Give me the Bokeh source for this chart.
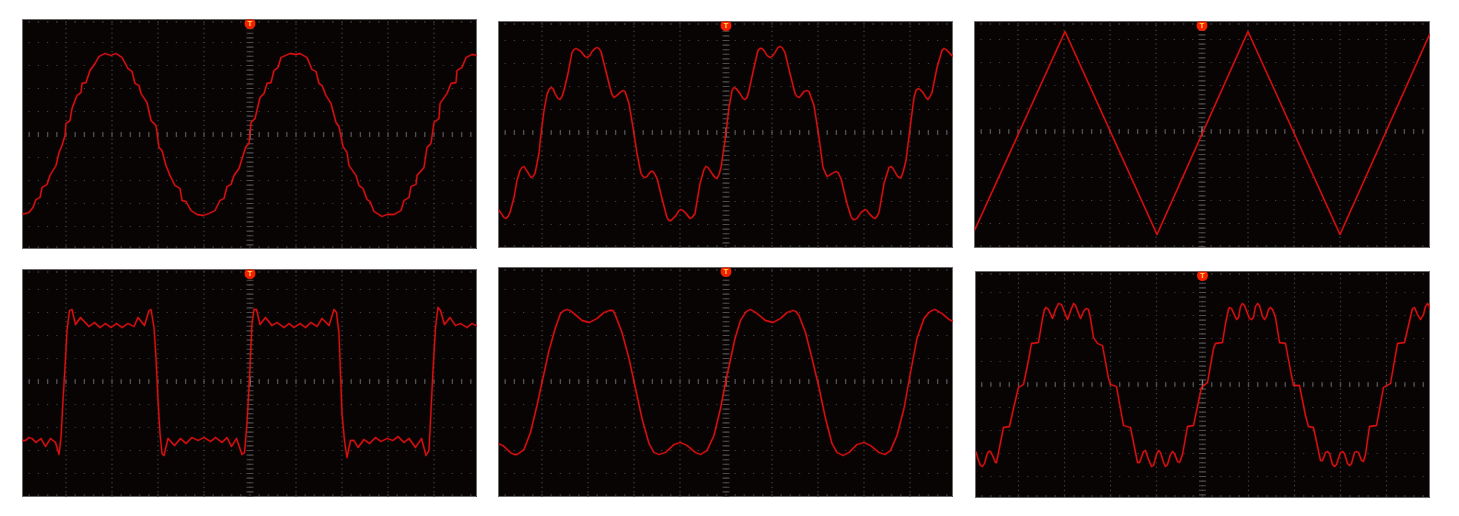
import numpy as np
from bokeh.plotting import figure
from bokeh.layouts import row, column
from bokeh.embed import file_html
from bokeh.resources import INLINE
from bokeh.core.properties import value

# Sample offset from the trigger and level offset from the centre line, read from the screens.
time_a = [-228,-221,-217,-214,-210,-208,-203,-200,-194,-191,-188,-185,-184,-180,-178,-173,-169,-168,-164,-160,-155,-151,-145,-139,-134,-128,-122,-118,-115,-111,-109,-103,-99,-94,-91,-88,-84,-80,-75,-70,-68,-64,-59,-53,-47,-41,-35,-30,-26,-23,-19,-16,-11,-7,-4,-1,1,5,10,14,17,21,24,28,31,40,46,50,57,62,66,69,72,76,81,86,89,93,97,99,106,109,113,117,120,124,132,137,144,151,154,159,161,166,167,174,177,181,184,189,190,197,201,206,207,212,216,222,228]
level_a = [-80,-78,-73,-65,-63,-53,-50,-41,-31,-18,-11,-1,11,14,26,39,42,51,52,64,71,78,81,79,81,77,66,63,51,49,41,32,14,9,-13,-16,-31,-41,-51,-54,-66,-67,-76,-80,-81,-79,-76,-66,-64,-52,-50,-41,-34,-21,-12,-9,12,16,37,41,51,52,64,67,77,81,80,81,77,65,63,51,49,39,31,12,8,-12,-18,-31,-41,-51,-54,-65,-67,-77,-82,-80,-80,-76,-66,-63,-52,-50,-41,-33,-13,-9,12,16,31,41,51,52,64,67,77,80,79]

time_b = [-227.5,-224,-222,-220,-218,-216,-212,-209,-206,-204,-202,-200,-195,-193,-191,-187,-185,-182,-179,-177,-175,-173,-171,-168,-166,-164,-162,-158,-154,-152,-150,-148,-145,-141,-139,-136,-134,-131,-129,-127,-125,-121,-116,-114,-112,-109,-106,-103,-101,-97,-93,-89,-85,-83,-81,-79,-77,-75,-73,-71,-69,-64,-59,-57,-55,-52,-50,-47,-45,-43,-40,-36,-34,-31,-26,-22,-20,-18,-14,-11,-9,-7,-5,-1,3,6,8,10,14,17,19,21,23,28,32,34,36,38,41,44,47,49,52,54,56,59,64,69,71,73,75,78,81,83,88,93,97,101,103,106,110,112,115,121,125,127,129,131,135,139,141,143,147,149,151,153,158,163,165,167,171,173,175,177,180,185,188,190,192,194,197,200,202,204,206,211,216,218,220,224,228]
level_b = [-77,-82,-85,-86,-84,-80,-65,-48,-38,-35,-34,-37,-45,-44,-41,-21,-1,22,38,43,45,44,39,34,33,36,42,59,80,83,84,83,81,76,75,77,81,84,85,84,81,65,45,38,35,37,40,42,41,29,5,-21,-41,-44,-45,-44,-41,-39,-39,-42,-46,-66,-85,-88,-88,-85,-83,-78,-77,-78,-81,-86,-85,-81,-51,-37,-34,-35,-41,-45,-46,-42,-35,-8,25,42,45,44,39,34,33,35,42,65,82,84,84,82,77,75,77,80,85,86,85,80,59,39,36,35,37,41,42,41,27,-5,-35,-44,-43,-41,-39,-40,-46,-71,-84,-87,-87,-86,-80,-77,-78,-81,-85,-86,-84,-80,-51,-35,-34,-36,-43,-45,-45,-40,-28,12,35,42,44,43,40,35,33,36,40,65,82,84,83,79,75]

time_c = [-227.5,-137,-45,46,138,228]
level_c = [-99,100,-103,100,-103,98]

time_d = [-228,-224.5,-221,-218,-214,-209,-204.5,-199.5,-194.5,-191,-189,-187,-185,-183,-180.5,-178,-174.5,-169.5,-161,-155.5,-150,-144.5,-139,-133.5,-128,-122,-116,-112,-105.5,-101,-99,-96,-94,-92,-90,-88,-86,-82,-75.5,-69.5,-64,-58,-52,-46,-39.5,-34.5,-28,-23,-18.5,-13.5,-8,-5.5,-3,-0.5,2,4,6.5,10,15.5,22,27,34,39,44,50,55.5,61,67,72,79,84,86.5,89,90.5,92,94.5,97,100.5,104,108,114,119.5,125.5,131,137,143,148,154,159,165.5,171.5,176,179,181,183,185.5,188,190.5,194.5,200,205.5,210.5,217,222,228]
level_d = [-59,-59,-56,-57,-61,-57,-65,-57,-61,-73,-56,-19,14,51,71,72,57,64,55,59,54,58,54,58,54,58,55,64,56,71,72,54,24,-19,-52,-72,-74,-57,-64,-57,-62,-56,-59,-56,-60,-56,-61,-56,-65,-57,-73,-71,-42,4,58,72,72,57,64,56,59,54,58,54,58,54,59,55,63,56,72,69,48,8,-32,-59,-76,-59,-59,-66,-58,-62,-56,-60,-57,-59,-55,-61,-57,-66,-57,-74,-69,-29,11,54,74,71,57,64,56,58,54,58,55]

time_e = [-228,-223,-215.5,-212,-209,-206,-202,-195.5,-189,-184,-177,-170.5,-165.5,-162,-159,-156,-152,-144,-136.5,-129,-122,-116.5,-113,-110.5,-104,-97,-90.5,-84,-77,-72,-67,-60.5,-52,-45.5,-39,-30.5,-25.5,-19,-12,-5.5,1,9,14.5,19.5,22,24.5,28,31,39.5,47,54.5,61,67,70,73,79.5,86,93,99.5,106,111,117,123,131,138,144.5,153,159,164.5,171,178,184.5,191,198,203,206,209,216,223,229]
level_e = [-62,-64,-71,-73,-73,-71,-68,-51,-24,-1,31,54,68,71,72,71,68,61,59,63,69,71,71,66,49,23,-7,-37,-62,-71,-73,-71,-63,-61,-64,-71,-73,-69,-54,-27,6,43,61,69,71,72,70,68,61,59,63,69,71,70,66,49,23,-6,-37,-62,-71,-74,-71,-63,-61,-64,-71,-73,-69,-54,-27,9,43,63,69,71,72,68,62,59]

time_f = [-226.7,-224,-222,-220,-218,-215.5,-214,-212,-210,-207,-206,-204,-199,-193,-189,-184,-179,-175,-171,-164,-160,-158,-156.5,-154,-150,-146.5,-144,-141,-139,-135,-131,-129,-127,-122,-118.5,-116,-114,-112,-109,-105,-100,-94,-92,-86,-79,-72,-65,-63,-59,-57,-54,-51,-49,-46,-44,-42,-39,-37,-35,-32,-30,-28,-25,-23,-20,-15,-9,-1,5,11,13,20,23,26,27,29,34,36,38,40,42,47,49,51,53,55,57,60,62,64,66,68,70,73,77,83,88,91,97,103,106,111,118,120,123,125,127,130,132,134,138,140,142,145,147,149,152,154,156,159,161,163,167,174,181,188,195,202,210,212,215,218,221,223,225,227,228]
level_f = [-67,-76,-81,-82,-79,-70,-67,-67,-71,-78,-78,-68,-43,-42,-24,-3,0,19,41,42,66,75,77,75,66,76,81,80,75,65,76,81,79,66,74,76,75,66,47,41,39,6,0,-2,-41,-43,-78,-78,-67,-66,-75,-82,-81,-70,-66,-68,-78,-82,-80,-70,-67,-69,-77,-78,-70,-42,-41,-3,2,36,41,42,61,75,77,76,65,67,78,81,79,66,65,67,78,81,79,68,65,68,75,77,75,67,42,41,14,-1,-1,-31,-42,-43,-76,-76,-68,-67,-69,-80,-82,-80,-68,-67,-69,-79,-81,-79,-68,-67,-68,-76,-77,-70,-42,-41,-3,1,41,42,76,77,70,65,70,78,81,78,74]

# Screen scale: sample offsets across, level offsets up, and page margins of each screen.
DIV_X, DIV_Y, SUB = 46.0, 23.0, 5
panels = {
    "a": (time_a, level_a, (-227.5, 227.5), (-115, 115), 455, 230, (19, 0, 0, 22)),
    "d": (time_d, level_d, (-227.5, 227.5), (-116, 112), 455, 228, (20, 0, 0, 22)),
    "b": (time_b, level_b, (-227.5, 227.5), (-116, 111), 455, 227, (21, 0, 0, 21)),
    "e": (time_e, level_e, (-227.5, 227.5), (-116, 114), 455, 230, (19, 0, 0, 21)),
    "c": (time_c, level_c, (-227.5, 228.5), (-117, 110), 456, 227, (21, 0, 0, 21)),
    "f": (time_f, level_f, (-227, 228), (-114, 113), 455, 227, (23, 0, 0, 22)),
}


def screen(key):
    t, v, xr, yr, w, h, margin = panels[key]
    p = figure(width=w, height=h, x_range=xr, y_range=yr, margin=margin,
               x_axis_type=None, y_axis_type=None, toolbar_location=None,
               output_backend="svg", min_border=0,
               background_fill_color="#080404", border_fill_color="#080404",
               outline_line_color="#6a6a6a", outline_line_width=1)
    p.grid.visible = False
    xs = DIV_X * np.arange(-5, 6)
    ys = DIV_Y * np.arange(-5, 6)
    fx = DIV_X / SUB * np.arange(-25, 26)
    fy = DIV_Y / SUB * np.arange(-25, 26)
    # Dotted graticule
    gx, gy = np.meshgrid(fx, ys[1:-1])
    p.scatter(gx.ravel(), gy.ravel(), marker="square", size=1.2, color="#424242", line_color=None)
    gx, gy = np.meshgrid(xs[1:-1], fy)
    p.scatter(gx.ravel(), gy.ravel(), marker="square", size=1.2, color="#424242", line_color=None)
    # Edge ticks
    gx, gy = np.meshgrid(fx, [yr[1] - 2.5, yr[0] + 2.5])
    p.scatter(gx.ravel(), gy.ravel(), marker="square", size=1.5, color="#3e3e3e", line_color=None)
    # Centre scales
    p.segment(fx, np.full_like(fx, -2.5), fx, np.full_like(fx, 2.5), line_color="#505050", line_width=1.3)
    p.segment(np.full_like(fy, -3.5), fy, np.full_like(fy, 3.5), fy, line_color="#4c4c4c", line_width=1.1)
    p.segment([0], [-4.5], [0], [4.5], line_color="#808080", line_width=1.3)
    # Trace
    p.line(t, v, line_color="#ff1010", line_width=2.4, line_alpha=0.22, line_join="round")
    p.line(t, v, line_color="#dc1010", line_width=1.3, line_join="round")
    # Trigger marker
    p.scatter([0], [yr[1] - 4], marker="circle", size=11, color="#f42000", line_color=None)
    p.text([0], [yr[1] - 4], text=["T"], text_color="#ffd84a", text_font=value("Liberation Sans"),
           text_font_size="8px", text_font_style="bold", text_align="center", text_baseline="middle")
    return p


page = row(
    column(screen("a"), screen("d")),
    column(screen("b"), screen("e")),
    column(screen("c"), screen("f")),
)
open("out.html", "w").write(file_html(page, INLINE))
